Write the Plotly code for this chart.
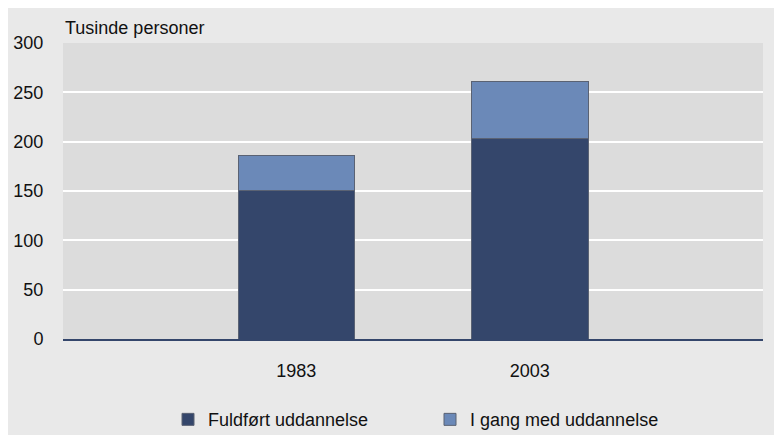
import plotly.graph_objects as go

years = ["1983", "2003"]
fuldfoert = [151, 203]
i_gang = [35, 58]
y_ticks = [0, 50, 100, 150, 200, 250, 300]

FONT = "Liberation Sans, Arial, sans-serif"

fig = go.Figure()
fig.add_trace(go.Bar(
    x=years, y=fuldfoert, name="Fuldført uddannelse",
    marker=dict(color="#34466b", line=dict(color="#5a6273", width=1)),
    width=0.5,
))
fig.add_trace(go.Bar(
    x=years, y=i_gang, name="I gang med uddannelse",
    marker=dict(color="#6b89b8", line=dict(color="#5a6273", width=1)),
    width=0.5,
))

fig.update_layout(
    barmode="stack",
    width=774, height=427,
    margin=dict(l=55, r=19, t=35, b=96, autoexpand=False),
    paper_bgcolor="#e9e9e9",
    plot_bgcolor="#dcdcdc",
    font=dict(family=FONT, size=18, color="#111111"),
    showlegend=True,
    legend=dict(orientation="h", x=0.15, xanchor="left", y=-0.21, yanchor="top",
                bgcolor="rgba(0,0,0,0)", font=dict(size=18),
                entrywidth=217, traceorder="normal"),
    xaxis=dict(type="category", range=[-1, 2], showgrid=False,
               showline=True, linecolor="#34466b", linewidth=1.5,
               ticks="outside", ticklen=15, tickcolor="rgba(0,0,0,0)",
               tickfont=dict(size=18)),
    yaxis=dict(range=[0, 300], tickvals=y_ticks, showgrid=True,
               gridcolor="white", gridwidth=2, zeroline=False,
               showline=False, ticks="outside", ticklen=15,
               tickcolor="rgba(0,0,0,0)", tickfont=dict(size=18)),
    annotations=[dict(text="Tusinde personer", xref="paper", yref="paper",
                      x=0.0, y=1.01, xanchor="left", yanchor="bottom",
                      showarrow=False, font=dict(size=18))],
)

fig.write_html("out.html")
